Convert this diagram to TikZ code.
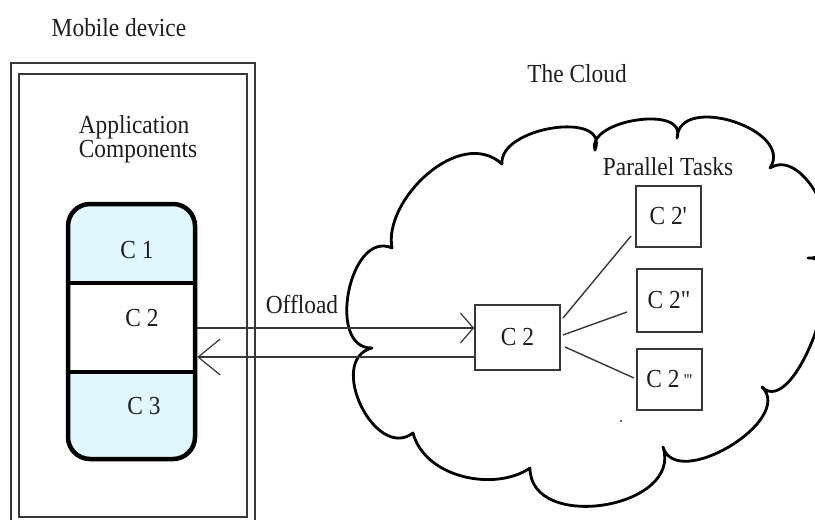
\documentclass[tikz,border=0pt]{standalone}
\usepackage{fontspec}
\setmainfont{Liberation Serif}[FakeStretch=0.9]
\usetikzlibrary{arrows.meta,calc}
\definecolor{lightcyan}{RGB}{224,247,253}
\definecolor{edge}{RGB}{55,55,55}
\definecolor{ink}{RGB}{30,30,30}
\begin{document}
\begin{tikzpicture}[x=1pt,y=-1pt,
  lbl/.style={font=\fontsize{26}{23}\selectfont, inner sep=0pt, text=ink},
  taskbox/.style={draw=edge, line width=1.6pt, inner sep=0pt, text=ink, font=\fontsize{26}{23}\selectfont},
  frameline/.style={draw=edge, line width=1.6pt},
  stackline/.style={line width=4.5pt, black},
  cloudline/.style={draw=black, line width=2.8pt, line join=round},
  arrR/.style={draw=edge, line width=1.6pt, -{Straight Barb[length=13pt,width=30pt,line width=1.2pt]}},
  arrL/.style={draw=edge, line width=1.6pt, -{Straight Barb[length=22pt,width=36pt,line width=1.2pt]}},
  fan/.style={draw=edge, line width=1.4pt}
]
\useasboundingbox (0,0) rectangle (815,520);
\clip (0,0) rectangle (815,520);
\fill[white] (0,0) rectangle (815,520);

% Mobile device frame (double)
\node[lbl, anchor=base] (mobile) at (119,36) {Mobile device};
\draw[frameline] (11,63) rectangle (255,530);
\draw[frameline] (19,74) rectangle (247,517);
\node[lbl, anchor=base] (app) at (134,133) {Application};
\node[lbl, anchor=base] (comp) at (138,157) {Components};

% component stack
\begin{scope}
  \clip[rounded corners=22pt] (68,204) rectangle (195,459);
  \fill[lightcyan] (68,204) rectangle (195,283);
  \fill[lightcyan] (68,372) rectangle (195,459);
\end{scope}
\node[draw, stackline, rounded corners=22pt, minimum width=127pt, minimum height=255pt, inner sep=0pt] (stack) at (131.5,331.5) {};
\draw[stackline] (stack.west |- 0,283) -- (stack.east |- 0,283);
\draw[stackline] (stack.west |- 0,372) -- (stack.east |- 0,372);
\node[lbl] (c1) at (137,250) {C 1};
\node[lbl] (c2) at (142,318) {C 2};
\node[lbl] (c3) at (144,406) {C 3};

% cloud
\draw[cloudline, fill=white] (372,348)
 .. controls (325.6,349.1) and (349.6,229.1) .. (392,248)
 .. controls (383,200) and (459.8,125.8) .. (502,164)
 .. controls (498.7,126.7) and (610.3,109.9) .. (595,150)
 .. controls (586,119.5) and (688.6,104.5) .. (677,138)
 .. controls (678.9,92.35) and (795.1,129.85) .. (770,168)
 .. controls (808.3,143.8) and (857.7,260.8) .. (808,258)
 .. controls (855.1,253.05) and (795.3,420.75) .. (762,387)
 .. controls (795.4,419.8) and (676.6,491.8) .. (663,447)
 .. controls (683,508.6) and (530,532.8) .. (530,468)
 .. controls (495,492) and (425,478) .. (413,433)
 .. controls (375.1,461.8) and (325.9,359.8) .. cycle;
\node[lbl, anchor=base] (cloudlbl) at (577,82) {The Cloud};
\node[lbl, anchor=base] (par) at (668,175) {Parallel Tasks};
\fill[edge] (621,421) circle (1.2pt);

% boxes in the cloud
\node[taskbox, minimum width=85pt, minimum height=65pt] (cc2) at (517.5,337.5) {C 2};
\node[taskbox, minimum width=65pt, minimum height=61pt] (t1) at (668.5,216.5) {C 2\textquotesingle};
\node[taskbox, minimum width=65pt, minimum height=63pt] (t2) at (669.5,300.5) {C 2\textquotedbl};
\node[taskbox, minimum width=65pt, minimum height=61pt] (t3) at (669.5,379.5) {C 2\,\raisebox{0.1ex}{\fontsize{18}{18}\selectfont\textquotesingle\kern-0.5pt\textquotesingle\kern-0.5pt\textquotesingle}};

% fan-out connectors
\coordinate (f1s) at (563,318); \coordinate (f1e) at (631,236);
\coordinate (f2s) at (563,335); \coordinate (f2e) at (627,312);
\coordinate (f3s) at (565,347); \coordinate (f3e) at (634,378);
\draw[fan] (f1s) -- (f1e);
\draw[fan] (f2s) -- (f2e);
\draw[fan] (f3s) -- (f3e);

% offload arrows
\coordinate (a1) at (cc2.west |- 0,328);
\coordinate (a2) at (cc2.west |- 0,357);
\draw[arrR] (stack.east |- a1) -- (a1);
\draw[arrL] (a2) -- (stack.east |- a2);
\node[lbl, anchor=base] (off) at (302,313) {Offload};
\end{tikzpicture}
\end{document}
